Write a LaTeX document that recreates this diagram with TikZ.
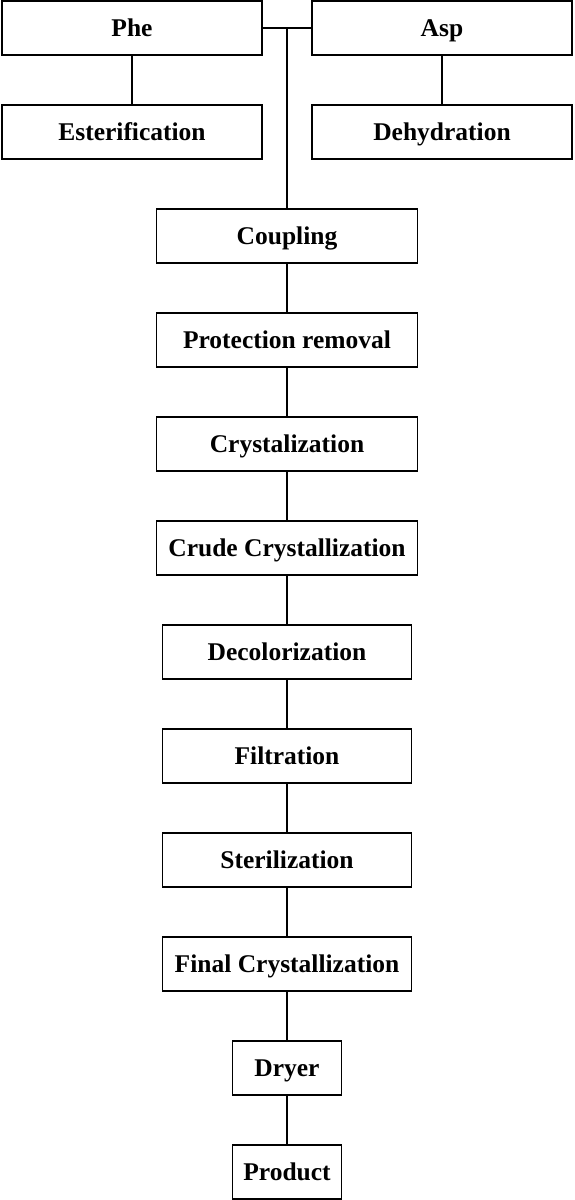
\documentclass[tikz,border=0pt]{standalone}
\usepackage{fontspec}
\setmainfont{Liberation Serif}
\usetikzlibrary{positioning,calc}

\begin{document}
\begin{tikzpicture}[
    x=1pt,y=1pt,
    proc/.style={draw=black,line width=1.8pt,inner sep=0pt,outer sep=0pt,minimum height=54pt,text height=17pt,text depth=0pt,font=\fontsize{25.5}{30}\selectfont\bfseries},
    wide/.style={proc,minimum width=260pt},
    mid/.style={proc,minimum width=249pt},
    small/.style={proc,minimum width=109pt},
    link/.style={line width=1.8pt}
]
\useasboundingbox (0,0) rectangle (574,-1200);

% raw materials
\node[wide] (phe) at (132,-28) {Phe};
\node[wide,right=50pt of phe] (asp) {Asp};
\node[wide,below=50pt of phe] (ester) {Esterification};
\node[wide,below=50pt of asp] (dehyd) {Dehydration};

\coordinate (join) at ($(phe.east)!0.5!(asp.west)$);
\coordinate (c0) at (join |- ester.south);

% main line
\node[wide,minimum width=261pt,below=50pt of c0] (coupl) {Coupling};
\node[wide,minimum width=261pt,below=50pt of coupl] (prot) {Protection removal};
\node[wide,minimum width=261pt,below=50pt of prot] (cryst) {Crystalization};
\node[wide,minimum width=261pt,below=50pt of cryst] (crude) {Crude Crystallization};
\node[mid,below=50pt of crude] (decol) {Decolorization};
\node[mid,below=50pt of decol] (filt) {Filtration};
\node[mid,below=50pt of filt] (steril) {Sterilization};
\node[mid,below=50pt of steril] (final) {Final Crystallization};
\node[small,below=50pt of final] (dryer) {Dryer};
\node[small,below=50pt of dryer] (prod) {Product};

\draw[link] (phe) -- (ester);
\draw[link] (asp) -- (dehyd);
\draw[link] (phe.east) -- (asp.west);
\draw[link] (join) -- (coupl);
\foreach \a/\b in {coupl/prot,prot/cryst,cryst/crude,crude/decol,decol/filt,filt/steril,steril/final,final/dryer,dryer/prod}
    \draw[link] (\a) -- (\b);
\end{tikzpicture}
\end{document}
